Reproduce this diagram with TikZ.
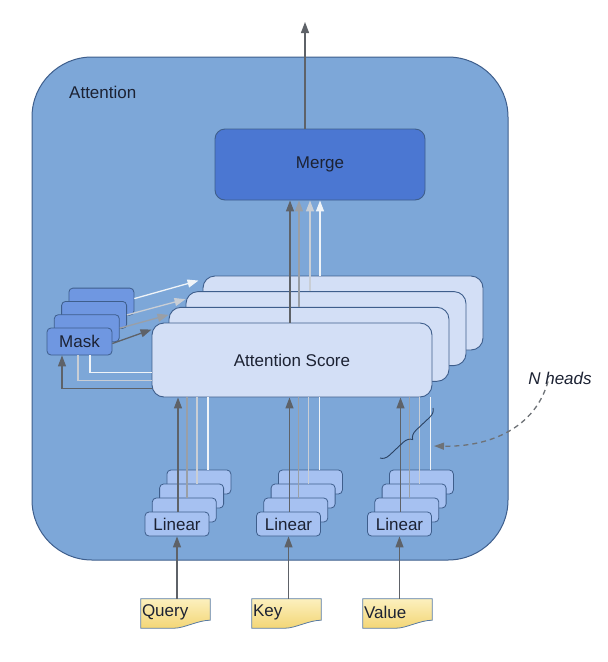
\documentclass[tikz,border=0pt]{standalone}
\usepackage{fontspec}
\setmainfont{Liberation Sans}
\usetikzlibrary{arrows.meta,decorations.pathreplacing,calc}
\definecolor{outerfill}{HTML}{7DA7D8}
\definecolor{edgeblue}{HTML}{3E5E8C}
\definecolor{mergefill}{HTML}{4B77D2}
\definecolor{scorefill}{HTML}{D3DFF6}
\definecolor{maskfill}{HTML}{6F97E1}
\definecolor{linfill}{HTML}{A6C1F1}
\definecolor{cA}{HTML}{5E6268}
\definecolor{cB}{HTML}{9A9FA6}
\definecolor{cC}{HTML}{C9CED5}
\definecolor{cD}{HTML}{F0F4F8}
\definecolor{txt}{HTML}{1C2233}
\definecolor{noteTop}{HTML}{FCF0BE}
\definecolor{noteBot}{HTML}{F3D676}
\definecolor{noteEdge}{HTML}{5B7CA3}
\begin{document}
\begin{tikzpicture}[x=1pt,y=-1pt,
  font=\fontsize{17}{20}\selectfont, text=txt,
  outerbox/.style={draw=edgeblue, line width=1pt, fill=outerfill, rounded corners=60pt, minimum width=476pt, minimum height=503pt},
  mergebox/.style={draw=edgeblue, line width=0.9pt, fill=mergefill, rounded corners=10pt, minimum width=210pt, minimum height=71pt},
  scorebox/.style={draw=edgeblue, line width=0.9pt, fill=scorefill, rounded corners=12pt, minimum width=280pt, minimum height=74pt},
  maskbox/.style={draw=edgeblue, line width=0.8pt, fill=maskfill, rounded corners=4pt, minimum width=65pt, minimum height=27pt, inner sep=0pt},
  linbox/.style={draw=edgeblue, line width=0.8pt, fill=linfill, rounded corners=4pt, minimum width=64pt, minimum height=24pt, inner sep=0pt},
  notebox/.style={minimum width=69pt, minimum height=29pt, inner sep=0pt},
  notetext/.style={anchor=west, inner sep=1pt},
  notepaint/.style={draw=noteEdge, line width=0.8pt, top color=noteTop, bottom color=noteBot},
  lineA/.style={draw=cA, line width=1.3pt},
  lineB/.style={draw=cB, line width=1.3pt},
  lineC/.style={draw=cC, line width=1.3pt},
  lineD/.style={draw=cD, line width=1.3pt},
  arrA/.style={lineA, -{Triangle[length=11pt,width=8pt]}},
  arrB/.style={lineB, -{Triangle[length=11pt,width=8pt]}},
  arrC/.style={lineC, -{Triangle[length=11pt,width=8pt]}},
  arrD/.style={lineD, -{Triangle[length=11pt,width=8pt]}},
]
\useasboundingbox (0,0) rectangle (608,662);
\fill[white] (0,0) rectangle (608,662);

% outer box
\node[outerbox] (att) at (270,308.5) {};
\node[anchor=west, inner sep=0pt] (attlabel) at (69,92) {Attention};

% merge
\node[mergebox] (merge) at (320,164.5) {Merge};
\coordinate (out) at (305,22);
\draw[arrA] ([xshift=-15pt]merge.north) -- (out);

% attention score stack
\node[scorebox] (s4) at (343,313) {};
\node[scorebox] (s3) at (326,328.6) {};
\node[scorebox] (s2) at (309,344.3) {};
\node[scorebox] (s1) at (292,360) {Attention Score};

% score -> merge
\draw[arrD] ([xshift=-23pt]s4.north) -- ([xshift=-23pt]s4.north |- merge.south);
\draw[arrC] ([xshift=-16pt]s3.north) -- ([xshift=-16pt]s3.north |- merge.south);
\draw[arrB] ([xshift=-10pt]s2.north) -- ([xshift=-10pt]s2.north |- merge.south);
\draw[arrA] ([xshift=-2pt]s1.north) -- ([xshift=-2pt]s1.north |- merge.south);

% mask stack
\node[maskbox] (m4) at (101.4,301.6) {};
\node[maskbox] (m3) at (94.1,314.9) {};
\node[maskbox] (m2) at (86.8,328.2) {};
\node[maskbox] (m1) at (79.5,341.5) {Mask};

% mask -> score
\draw[arrD] ([yshift=3pt]m4.east) -- ([xshift=-4pt,yshift=-5pt]s4.north west);
\draw[arrC] (m3.east) -- ([yshift=-8pt]s3.north west);
\draw[arrB] (m2.east) -- ([yshift=-8pt]s2.north west);
\draw[arrA] ([yshift=-2pt]m1.east) -- ([yshift=-7pt]s1.north west);

% score -> mask (feedback)
\draw[lineD] ([yshift=25pt]s1.south west) -| ([xshift=10.5pt]m1.south);
\draw[lineC] ([yshift=17pt]s1.south west) -| ([xshift=-1.5pt]m1.south);
\draw[arrA] ([yshift=9pt]s1.south west) -| ([xshift=-17.5pt]m1.south);

% linear stacks
\foreach \n/\cx in {q/177, k/288.5, v/399.5}{
  \node[linbox] (\n4) at (\cx+21.9,482) {};
  \node[linbox] (\n3) at (\cx+14.6,496) {};
  \node[linbox] (\n2) at (\cx+7.3,510) {};
  \node[linbox] (\n1) at (\cx,524) {Linear};
  \draw[lineD] ([xshift=9pt]\n4.north) -- ([xshift=9pt]\n4.north |- s1.south);
  \draw[lineC] ([xshift=5.4pt]\n3.north) -- ([xshift=5.4pt]\n3.north |- s1.south);
  \draw[lineB] ([xshift=2.7pt]\n2.north) -- ([xshift=2.7pt]\n2.north |- s1.south);
  \draw[arrA] ([xshift=1pt]\n1.north) -- ([xshift=1pt]\n1.north |- s1.south);
}

% inputs
\foreach \n/\m/\cx/\t in {qn/q/175.5/Query, kn/k/286.5/Key, vn/v/397.5/Value}{
  \node[notebox] (\n) at (\cx,613.5) {};
  \path[notepaint] (\n.north west) -- (\n.north east) -- ([yshift=8pt]\n.south east)
     .. controls ([xshift=-12pt,yshift=8pt]\n.south east) and ([xshift=-26pt]\n.south east) .. ([xshift=-36pt]\n.south east)
     -- (\n.south west) -- cycle;
  \node[notetext] at ([yshift=1pt]\n.west) {\t};
  \draw[arrA] (\n.north -| \m1.south) -- (\m1.south);
}

% brace and N heads
\draw[draw=edgeblue!70!black, line width=0.9pt, decorate, decoration={brace, amplitude=9pt}] (433,408) -- (380,458);
\node[font=\fontsize{17}{20}\selectfont\itshape, inner sep=1pt] (nh) at (560,378) {N heads};
\coordinate (bt) at (434,446);
\draw[draw=cA!90, line width=1.3pt, dash pattern=on 5pt off 4pt, -{Triangle[length=10pt,width=7pt]}]
  ([xshift=-12pt,yshift=4pt]nh.south) .. controls (535,428) and (490,447) .. (bt);
\end{tikzpicture}
\end{document}
